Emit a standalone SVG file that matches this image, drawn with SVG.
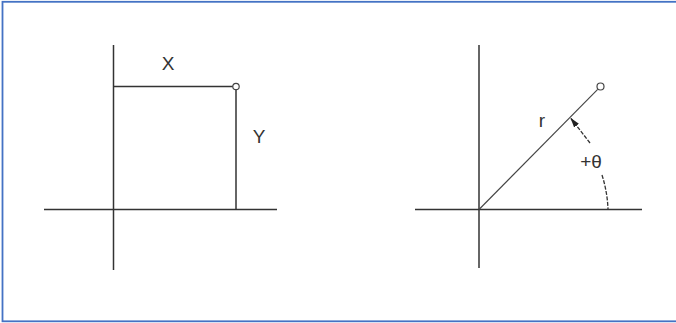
<svg xmlns="http://www.w3.org/2000/svg" width="676" height="323" viewBox="0 0 676 323">
<style>
.ax{stroke:#333;stroke-width:1.5;fill:none}
.thin{stroke:#444;stroke-width:1.1;fill:none}
.pt{stroke:#444;stroke-width:1.2;fill:#fff}
.lbl{font-family:"Liberation Sans",Arial,sans-serif;font-size:19px;fill:#333;text-anchor:middle}
.dash{stroke:#333;stroke-width:1.3;fill:none;stroke-dasharray:4 1.5}
</style>
<defs>
<marker id="ah" markerWidth="10" markerHeight="6" refX="9" refY="3" orient="auto" markerUnits="userSpaceOnUse">
<path d="M0,0 L10,3 L0,6 z" fill="#222"/>
</marker>
</defs>
<rect x="2.5" y="1.8" width="690" height="319.5" fill="#fff" stroke="#4472C4" stroke-width="1.8"/>
<g id="cartesian">
<line class="ax" x1="113.5" y1="45" x2="113.5" y2="270"/>
<line class="ax" x1="44" y1="209.5" x2="277" y2="209.5"/>
<line class="ax" x1="113.5" y1="86.5" x2="233" y2="86.5"/>
<line class="ax" x1="236" y1="90" x2="236" y2="209.5"/>
<circle id="pointXY" class="pt" cx="236" cy="86.5" r="3.2"/>
<text class="lbl" x="168" y="70">X</text>
<text class="lbl" x="259" y="143">Y</text>
</g>
<g id="polar">
<line class="ax" x1="479" y1="45" x2="479" y2="268"/>
<line class="ax" x1="415" y1="209.5" x2="642" y2="209.5"/>
<line class="thin" x1="479" y1="209.5" x2="597.7" y2="89.3"/>
<circle id="pointR" class="pt" cx="600.5" cy="86.5" r="3.5"/>
<text class="lbl" x="542" y="127">r</text>
<text class="lbl" x="591" y="168">+θ</text>
</g>
<g id="connectors">
<path class="dash" d="M590,143 L571,118.5" marker-end="url(#ah)"/>
<path class="dash" d="M602,175 A129,129 0 0 1 608,209"/>
</g>
</svg>
